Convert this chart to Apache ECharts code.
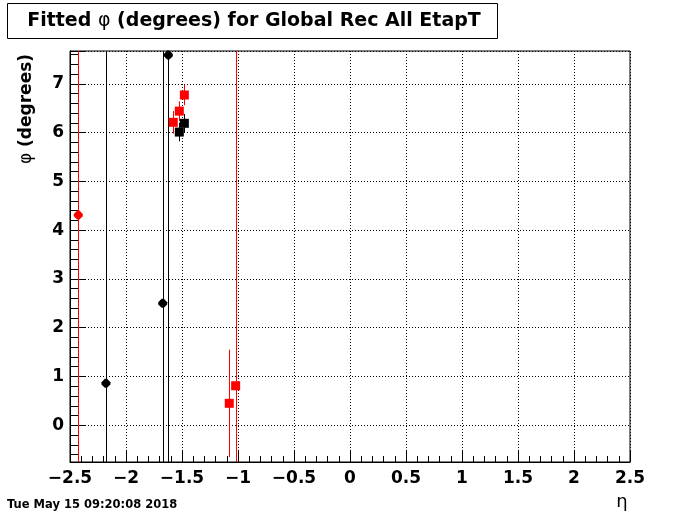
<!DOCTYPE html>
<html><head><meta charset="utf-8">
<script src="https://cdn.jsdelivr.net/npm/echarts@6/dist/echarts.min.js"></script>
<style>html,body{margin:0;padding:0;background:#fff}#c{width:700px;height:514px}</style>
</head><body><div id="c"></div>
<script>
// ---- data ----
const blackDiamondEta = [-2.179, -1.672, -1.622];
const blackDiamondPhi = [0.86, 2.50, 7.59];
const blackDiamondErr = [12, 12, 12];

const blackSquareEta = [-1.524, -1.479];
const blackSquarePhi = [6.01, 6.19];
const blackSquareErr = [0.19, 0.19];

const redDiamondEta = [-2.426];
const redDiamondPhi = [4.31];
const redDiamondErr = [12];

const redSquareEta = [-1.578, -1.524, -1.479, -1.078, -1.021];
const redSquarePhi = [6.21, 6.44, 6.77, 0.45, 0.81];
const redSquareErr = [0.23, 0.20, 0.21, 1.10, 12];

const xMin = -2.5, xMax = 2.5, xStep = 0.5;
const yMin = -0.753, yMax = 7.672;

const titleA = 'Fitted ', titlePhi = '\u03c6', titleB = ' (degrees) for Global Rec All EtapT';
const yTitlePhi = '\u03c6', yTitleRest = ' (degrees)';
const xTitle = '\u03b7';
const dateText = 'Tue May 15 09:20:08 2018';

// ---- helpers ----
const FONT = 'DejaVu Sans';
const DIAMOND = 'path://M3,0L5,0L8,3L8,5L5,8L3,8L0,5L0,3Z';
function pts(xs, ys) { return xs.map((x, i) => [x, ys[i]]); }
function errPts(xs, ys, es) { return xs.map((x, i) => [x, ys[i], es[i]]); }
function fmt(v) {
  const r = Math.round(v * 1000) / 1000;
  return r < 0 ? '\u2212' + String(-r) : String(r);
}
function errRender(color) {
  return function (params, api) {
    const x = api.value(0), y = api.value(1), e = api.value(2);
    const p1 = api.coord([x, y - e]);
    const p2 = api.coord([x, y + e]);
    const px = Math.round(p1[0]) + 0.5;
    return {
      type: 'line',
      shape: { x1: px, y1: p1[1], x2: px, y2: p2[1] },
      style: { stroke: color, lineWidth: 1 }
    };
  };
}
function errSeries(xs, ys, es, color) {
  return {
    type: 'custom', clip: true, silent: true,
    data: errPts(xs, ys, es),
    renderItem: errRender(color),
    encode: { x: 0, y: 1 },
    z: 2
  };
}
function markSeries(xs, ys, symbol, size, color) {
  return {
    type: 'scatter', symbol: symbol, symbolSize: size,
    data: pts(xs, ys),
    itemStyle: { color: color, opacity: 1 },
    silent: true, z: 3
  };
}

const chart = echarts.init(document.getElementById('c'), null, { renderer: 'canvas' });
chart.setOption({
  animation: false,
  backgroundColor: '#fff',
  grid: { left: 70, right: 70, top: 51, bottom: 52, show: true, borderColor: '#000', borderWidth: 1, backgroundColor: 'transparent' },
  xAxis: {
    type: 'value', min: xMin, max: xMax, interval: xStep,
    axisLine: { show: true, onZero: false, lineStyle: { color: '#000', width: 1 } },
    axisTick: { show: true, inside: true, length: 12, lineStyle: { color: '#000' } },
    minorTick: { show: true, splitNumber: 5, length: 6, lineStyle: { color: '#000' } },
    splitLine: { show: true, lineStyle: { color: '#000', width: 1, type: [1, 2] } },
    axisLabel: { formatter: fmt, color: '#000', fontFamily: FONT, fontWeight: 'bold', fontSize: 17, margin: 8 }
  },
  yAxis: {
    type: 'value', min: yMin, max: yMax, splitNumber: 8,
    axisLine: { show: true, onZero: false, lineStyle: { color: '#000', width: 1 } },
    axisTick: { show: true, inside: true, length: 16, lineStyle: { color: '#000' } },
    minorTick: { show: true, splitNumber: 5, length: 8, lineStyle: { color: '#000' } },
    splitLine: { show: true, lineStyle: { color: '#000', width: 1, type: [1, 2] } },
    axisLabel: { formatter: fmt, showMinLabel: false, showMaxLabel: false, color: '#000', fontFamily: FONT, fontWeight: 'bold', fontSize: 17, margin: 6, padding: [5, 0, 0, 0] }
  },
  series: [
    errSeries(blackDiamondEta, blackDiamondPhi, blackDiamondErr, '#000'),
    markSeries(blackDiamondEta, blackDiamondPhi, DIAMOND, 9, '#000'),
    errSeries(blackSquareEta, blackSquarePhi, blackSquareErr, '#000'),
    markSeries(blackSquareEta, blackSquarePhi, 'rect', 9, '#000'),
    errSeries(redDiamondEta, redDiamondPhi, redDiamondErr, '#ff0000'),
    markSeries(redDiamondEta, redDiamondPhi, DIAMOND, 9, '#ff0000'),
    errSeries(redSquareEta, redSquarePhi, redSquareErr, '#ff0000'),
    markSeries(redSquareEta, redSquarePhi, 'rect', 9, '#ff0000')
  ],
  graphic: [
    { type: 'rect', shape: { x: 7.5, y: 3.5, width: 490, height: 35 }, style: { fill: '#fff', stroke: '#000', lineWidth: 1 }, z: 10 },
    { type: 'text', x: 254, y: 21, z: 11, style: {
      text: '{b|' + titleA + '}{p|' + titlePhi + '}{b|' + titleB + '}',
      textAlign: 'center', textVerticalAlign: 'middle',
      rich: {
        b: { fontFamily: FONT, fontWeight: 'bold', fontSize: 19, fill: '#000', color: '#000' },
        p: { fontFamily: FONT, fontWeight: 'normal', fontSize: 19, fill: '#000', color: '#000' }
      } } },
    { type: 'text', x: 27, y: 109, rotation: Math.PI / 2, z: 11, style: {
      text: '{p|' + yTitlePhi + '}{b|' + yTitleRest + '}',
      textAlign: 'center', textVerticalAlign: 'middle',
      rich: {
        b: { fontFamily: FONT, fontWeight: 'bold', fontSize: 17, fill: '#000', color: '#000' },
        p: { fontFamily: FONT, fontWeight: 'normal', fontSize: 17, fill: '#000', color: '#000' }
      } } },
    { type: 'text', x: 622, y: 502, style: { text: xTitle, font: '18px "DejaVu Sans"', fill: '#000', textAlign: 'center', textVerticalAlign: 'middle' }, z: 11 },
    { type: 'text', x: 7, y: 505, style: { text: dateText, font: 'bold 11.5px "DejaVu Sans"', fill: '#000', textAlign: 'left', textVerticalAlign: 'middle' }, z: 11 }
  ]
});
</script>
</body></html>
